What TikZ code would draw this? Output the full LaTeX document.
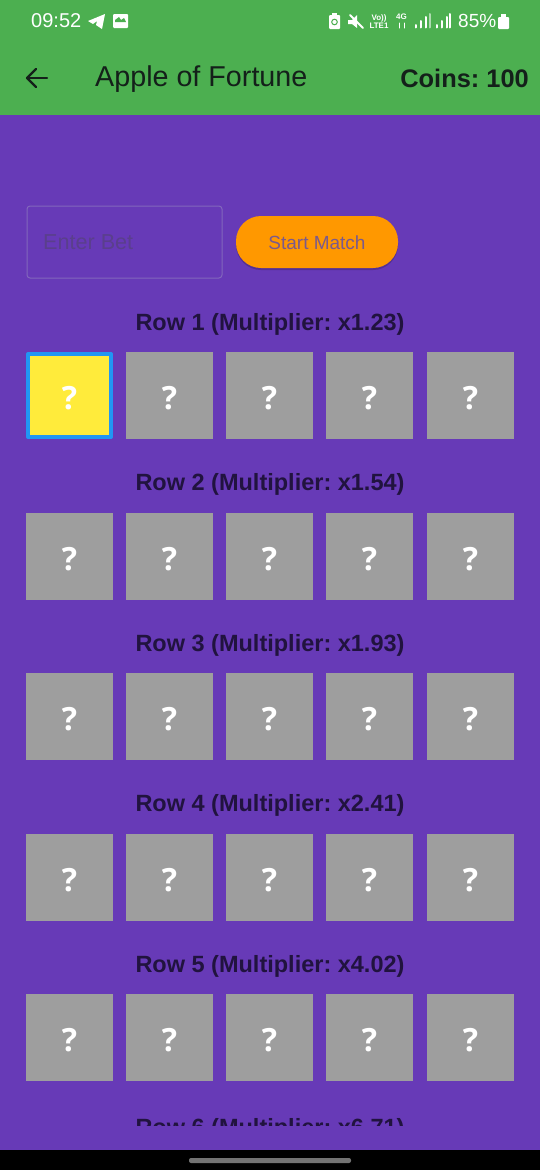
\documentclass[tikz,border=0pt]{standalone}
\usepackage{fontspec}
\setmainfont{Liberation Sans}
\newfontfamily\markfont{Open Sans}
\definecolor{appgreen}{HTML}{4CAF50}
\definecolor{apppurple}{HTML}{673AB7}
\definecolor{apporange}{HTML}{FF9800}
\definecolor{appyellow}{HTML}{FFEB3B}
\definecolor{appblue}{HTML}{2196F3}
\definecolor{cellgrey}{HTML}{9E9E9E}
\definecolor{rowink}{HTML}{21133F}
\definecolor{barink}{HTML}{14201A}
\definecolor{hintink}{HTML}{5A3F8C}
\definecolor{fieldline}{HTML}{8267BC}
\definecolor{startink}{HTML}{7B5A8C}
\tikzset{
	cell/.style={draw=none, fill=cellgrey, minimum size=87pt, inner sep=0pt, text=white, text height=27pt, text depth=0pt, font=\markfont\bfseries\fontsize{32}{32}\selectfont},
	pickedcell/.style={cell, fill=appyellow, draw=appblue, line width=4pt, minimum size=83pt},
	rowlabel/.style={text=rowink, inner sep=0pt, font=\frenchspacing\fontsize{23.5}{23.5}\selectfont\bfseries},
	statustext/.style={text=white, inner sep=0pt},
	bar/.style={white, line width=2pt}
}
\begin{document}
\begin{tikzpicture}[x=1pt, y=-1pt, line join=round, line cap=round]
	\useasboundingbox (0,0) rectangle (540,1170);
	% Background
	\fill[apppurple] (0,0) rectangle (540,1150);
	\fill[appgreen] (0,0) rectangle (540,115);
	\fill[black] (0,1150) rectangle (540,1170);
	\fill[gray!90!black, rounded corners=2pt] (189,1158) rectangle (351,1163);
	% Status bar
	\node[statustext, font=\fontsize{20}{20}\selectfont, anchor=west] (clock) at (31,20.5) {09:52};
	\fill[white] (88,21) -- (105,14) -- (102,29) -- (96,25) -- (97,21) -- (93,24) -- cycle;
	\fill[white, rounded corners=1pt] (113,14) rectangle (128,28);
	\fill[appgreen] (115,20) -- (119,17) -- (121,20) -- (124,18) -- (126,22) -- (115,22) -- cycle;
	\fill[white, rounded corners=1pt] (329,15) rectangle (340,29);
	\fill[white] (332,13) rectangle (337,16);
	\draw[appgreen, line width=1pt] (334.5,22) circle (2.8);
	\fill[white] (348,20) -- (352,20) -- (357,15) -- (357,28) -- (352,24) -- (348,24) -- cycle;
	\draw[white, line width=2pt] (350,15) -- (363,28);
	\node[statustext, font=\fontsize{8}{8.5}\selectfont\bfseries, align=center] (volte) at (379,21.5) {Vo))\\LTE1};
	\node[statustext, font=\fontsize{8}{8}\selectfont\bfseries] (net) at (401.5,17) {4G};
	\draw[white, line width=1pt] (399,28) -- (399,23) (404,28) -- (404,23);
	% Signal bars
	\draw[bar] (416,27.5) -- (416,25) (421,27.5) -- (421,21) (426,27.5) -- (426,17);
	\draw[bar, white!55!appgreen] (430,27.5) -- (430,14);
	\draw[bar] (437,27.5) -- (437,25) (442,27.5) -- (442,21) (447,27.5) -- (447,17) (450,27.5) -- (450,14);
	\node[statustext, font=\fontsize{19}{19}\selectfont, anchor=west] (battery) at (458,20.5) {85\%};
	\fill[white, rounded corners=1pt] (498,17) rectangle (509,29);
	\fill[white] (501,14) rectangle (506,17);
	% App bar
	\draw[barink, line width=2.2pt] (47,78) -- (27,78);
	\draw[barink, line width=2.2pt] (36,69) -- (27,78) -- (36,87);
	\node[text=barink, inner sep=0pt, anchor=west, font=\fontsize{28.7}{28.7}\selectfont] (title) at (95,79) {Apple of Fortune};
	\node[text=barink, inner sep=0pt, anchor=east, font=\frenchspacing\fontsize{25.4}{25.4}\selectfont\bfseries] (coins) at (529,78) {Coins: 100};
	% Bet field and button
	\draw[fieldline, line width=1pt, rounded corners=3pt] (27,206) rectangle (222,278);
	\node[text=hintink, inner sep=0pt, anchor=west, font=\fontsize{21.6}{21.6}\selectfont] (bet) at (43,242.5) {Enter Bet};
	\fill[black, opacity=0.18, rounded corners=25pt] (236,218) rectangle (398,270);
	\fill[apporange, rounded corners=25pt] (236,216) rectangle (398,268);
	\node[text=startink, inner sep=0pt, font=\fontsize{19}{19}\selectfont] (start) at (317,242.5) {Start Match};
	% Row 1
	\node[rowlabel] (r1) at (270,324) {Row 1 (Multiplier: x1.23)};
	\node[pickedcell] (c11) at (69.5,395.5) {?};
	\node[cell] (c12) at (169.5,395.5) {?};
	\node[cell] (c13) at (269.5,395.5) {?};
	\node[cell] (c14) at (369.5,395.5) {?};
	\node[cell] (c15) at (470.5,395.5) {?};
	% Row 2
	\node[rowlabel] (r2) at (270,484.5) {Row 2 (Multiplier: x1.54)};
	\node[cell] (c21) at (69.5,556.5) {?};
	\node[cell] (c22) at (169.5,556.5) {?};
	\node[cell] (c23) at (269.5,556.5) {?};
	\node[cell] (c24) at (369.5,556.5) {?};
	\node[cell] (c25) at (470.5,556.5) {?};
	% Row 3
	\node[rowlabel] (r3) at (270,645) {Row 3 (Multiplier: x1.93)};
	\node[cell] (c31) at (69.5,716.5) {?};
	\node[cell] (c32) at (169.5,716.5) {?};
	\node[cell] (c33) at (269.5,716.5) {?};
	\node[cell] (c34) at (369.5,716.5) {?};
	\node[cell] (c35) at (470.5,716.5) {?};
	% Row 4
	\node[rowlabel] (r4) at (270,805.5) {Row 4 (Multiplier: x2.41)};
	\node[cell] (c41) at (69.5,877.5) {?};
	\node[cell] (c42) at (169.5,877.5) {?};
	\node[cell] (c43) at (269.5,877.5) {?};
	\node[cell] (c44) at (369.5,877.5) {?};
	\node[cell] (c45) at (470.5,877.5) {?};
	% Row 5
	\node[rowlabel] (r5) at (270,966) {Row 5 (Multiplier: x4.02)};
	\node[cell] (c51) at (69.5,1037.5) {?};
	\node[cell] (c52) at (169.5,1037.5) {?};
	\node[cell] (c53) at (269.5,1037.5) {?};
	\node[cell] (c54) at (369.5,1037.5) {?};
	\node[cell] (c55) at (470.5,1037.5) {?};
	% Row 6, cut off by the list edge
	\begin{scope}
		\clip (0,1100) rectangle (540,1125);
		\node[rowlabel] (r6) at (270,1129) {Row 6 (Multiplier: x6.71)};
	\end{scope}
\end{tikzpicture}
\end{document}
